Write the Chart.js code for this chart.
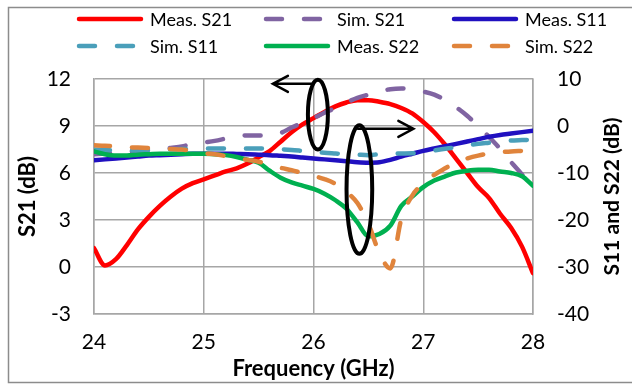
<!DOCTYPE html>
<html><head><meta charset="utf-8">
<script src="https://cdn.jsdelivr.net/npm/chart.js@4.4.0/dist/chart.umd.min.js"></script>
<style>html,body{margin:0;padding:0;background:#fff}#wrap{width:632px;height:386px;position:relative}</style>
</head><body><div id="wrap"><canvas id="c" width="632" height="386"></canvas></div>
<script>
// Frequency (GHz)
const frequency = [24.0,24.1,24.2,24.3,24.4,24.5,24.6,24.7,24.8,24.9,
  25.0,25.1,25.2,25.3,25.4,25.5,25.6,25.7,25.8,25.9,
  26.0,26.1,26.2,26.3,26.4,26.5,26.6,26.7,26.8,26.9,
  27.0,27.1,27.2,27.3,27.4,27.5,27.6,27.7,27.8,27.9,28.0];
// S21 (dB), left axis
const measS21 = [1.2,0.1,0.5,1.4,2.4,3.2,3.9,4.5,5.0,5.35,
  5.6,5.85,6.1,6.3,6.6,7.0,7.4,8.0,8.6,9.1,
  9.5,9.9,10.25,10.5,10.65,10.65,10.55,10.4,10.15,9.8,
  9.25,8.6,7.8,6.9,6.0,5.1,4.4,3.4,2.5,1.3,-0.4];
const simS21 = [7.2,7.25,7.3,7.35,7.4,7.45,7.5,7.6,7.7,7.85,
  7.95,8.05,8.2,8.35,8.4,8.4,8.4,8.55,8.9,9.2,
  9.5,9.85,10.15,10.5,10.8,11.0,11.2,11.35,11.4,11.35,
  11.2,11.0,10.65,10.2,9.65,9.0,8.3,7.55,6.7,5.9,4.9];
// S11 and S22 (dB), right axis
const measS11 = [-7.3,-7.1,-6.9,-6.7,-6.5,-6.3,-6.2,-6.1,-6.0,-5.9,
  -5.9,-5.9,-5.9,-5.95,-6.0,-6.1,-6.2,-6.35,-6.5,-6.7,
  -6.9,-7.1,-7.3,-7.5,-7.7,-7.8,-7.7,-7.2,-6.5,-5.9,
  -5.3,-4.8,-4.3,-3.8,-3.3,-2.8,-2.3,-1.9,-1.6,-1.3,-1.0];
const simS11 = [-5.0,-5.1,-5.2,-5.2,-5.2,-5.1,-5.0,-4.95,-4.9,-4.85,
  -4.8,-4.8,-4.8,-4.8,-4.8,-4.8,-4.85,-4.95,-5.1,-5.3,
  -5.5,-5.7,-5.85,-6.0,-6.1,-6.2,-6.0,-5.9,-5.85,-5.8,
  -5.6,-5.2,-4.85,-4.5,-4.1,-3.8,-3.55,-3.3,-3.1,-3.0,-2.9];
const measS22 = [-5.4,-6.0,-6.3,-6.3,-6.1,-6.0,-5.9,-5.9,-5.9,-5.9,
  -5.9,-6.0,-6.2,-6.6,-7.2,-7.8,-9.5,-11.0,-12.0,-12.7,
  -13.4,-14.4,-15.8,-17.6,-20.5,-23.5,-23.0,-21.2,-17.0,-15.0,
  -13.0,-11.6,-10.7,-9.9,-9.5,-9.3,-9.3,-9.7,-10.0,-10.7,-12.7];
const simS22 = [-4.1,-4.2,-4.35,-4.5,-4.6,-4.7,-4.8,-4.9,-5.0,-5.3,
  -5.8,-6.0,-6.4,-6.9,-7.2,-7.6,-8.3,-8.9,-9.4,-10.0,
  -10.6,-11.3,-12.3,-14.0,-16.4,-20.8,-27.0,-30.3,-19.8,-14.8,
  -12.2,-10.4,-9.0,-7.7,-6.9,-6.3,-5.85,-5.6,-5.4,-5.3,-5.2];

const xTicks = [24,25,26,27,28];
const leftTicks = [-3,0,3,6,9,12];
const rightTicks = [-40,-30,-20,-10,0,10];

// annotation shapes in data units (x: GHz, y: left axis dB)
const annotationEllipses = [
  {x:26.04, y:9.73, rx:0.091, ry:2.23},
  {x:26.418, y:4.94, rx:0.117, ry:4.10}
];
const annotationArrows = [
  {y:11.69, from:26.0, to:25.63},
  {y:8.82, from:26.405, to:26.91}
];

const FONT = 'Lato';
const pts = arr => frequency.map((f,i)=>({x:f, y:arr[i]}));
const DASH = [16,22];

function ds(label, arr, color, axis, dashed, order){
  return {label, data: pts(arr), yAxisID: axis, borderColor: color, backgroundColor: color,
    borderWidth: 4.5, borderDash: dashed ? DASH : [], borderCapStyle: 'round',
    borderJoinStyle:'round', pointRadius: 0, cubicInterpolationMode: 'monotone', fill:false, order,
    _dashed: dashed};
}

const datasets = [
  ds('Meas. S21', measS21, '#FF0000', 'y', false, 6),
  ds('Sim. S21', simS21, '#8064A2', 'y', true, 5),
  ds('Meas. S11', measS11, '#2010C0', 'y1', false, 4),
  ds('Sim. S11', simS11, '#4A9FBA', 'y1', true, 3),
  ds('Meas. S22', measS22, '#00B050', 'y1', false, 2),
  ds('Sim. S22', simS22, '#E0843C', 'y1', true, 1)
];

const legendCols = [77, 264, 452];
const legendRows = [19, 46];

const extras = {
  id: 'extras',
  beforeDraw(chart){
    const ctx = chart.ctx;
    ctx.save();
    ctx.fillStyle = '#fff';
    ctx.fillRect(0,0,chart.width,chart.height);
    ctx.strokeStyle = '#8C8C8C';
    ctx.lineWidth = 1.5;
    ctx.strokeRect(8.5, 7.5, 700, 375);
    ctx.restore();
  },
  afterDatasetsDraw(chart){
    const ctx = chart.ctx, xs = chart.scales.x, ys = chart.scales.y;
    ctx.save();
    ctx.strokeStyle = '#000';
    ctx.lineWidth = 4;
    annotationEllipses.forEach(e=>{
      const cx = xs.getPixelForValue(e.x), cy = ys.getPixelForValue(e.y);
      const rx = Math.abs(xs.getPixelForValue(e.x+e.rx)-cx), ry = Math.abs(ys.getPixelForValue(e.y+e.ry)-cy);
      ctx.beginPath(); ctx.ellipse(cx,cy,rx,ry,0,0,Math.PI*2); ctx.stroke();
    });
    ctx.lineWidth = 2.5;
    ctx.lineCap = 'round';
    annotationArrows.forEach(a=>{
      const y = ys.getPixelForValue(a.y), x0 = xs.getPixelForValue(a.from), x1 = xs.getPixelForValue(a.to);
      const d = Math.sign(x1-x0);
      ctx.beginPath(); ctx.moveTo(x0,y); ctx.lineTo(x1,y);
      ctx.moveTo(x1-d*15, y-8); ctx.lineTo(x1,y); ctx.lineTo(x1-d*15, y+8);
      ctx.stroke();
    });
    ctx.restore();
  },
  afterDraw(chart){
    const ctx = chart.ctx;
    ctx.save();
    // legend
    ctx.font = '18px ' + FONT;
    ctx.textBaseline = 'middle';
    ctx.textAlign = 'left';
    chart.data.datasets.forEach((d,i)=>{
      const x = legendCols[i%3], y = legendRows[Math.floor(i/3)];
      ctx.strokeStyle = d.borderColor;
      ctx.lineWidth = 4.5;
      ctx.lineCap = 'round';
      ctx.setLineDash(d._dashed ? DASH : []);
      ctx.beginPath(); ctx.moveTo(x+2, y); ctx.lineTo(x+64, y); ctx.stroke();
      ctx.setLineDash([]);
      ctx.fillStyle = '#000';
      ctx.fillText(d.label, x+73, y+1);
    });
    // right axis title (reads bottom to top)
    const ya = chart.scales.y;
    ctx.translate(612, (ya.top+ya.bottom)/2);
    ctx.rotate(-Math.PI/2);
    ctx.font = 'bold 21px ' + FONT;
    ctx.textAlign = 'center';
    ctx.fillText('S11 and S22 (dB)', 0, 0);
    ctx.restore();
  }
};

const gridCol = '#A6A6A6';
const tickFont = { family: FONT, size: 21 };
const titleFont = { family: FONT, size: 22, weight: 'bold' };
new Chart(document.getElementById('c'), {
  type: 'line',
  data: { datasets },
  options: {
    responsive: false, animation: false, devicePixelRatio: 1,
    layout: { padding: { left: 0, right: 0, top: 79, bottom: 0 } },
    plugins: { legend: { display: false }, tooltip: { enabled: false } },
    scales: {
      x: { type: 'linear', min: 24, max: 28, position: 'bottom',
        afterBuildTicks: s => { s.ticks = xTicks.map(v=>({value:v})); },
        ticks: { font: tickFont, color: '#000', padding: 16, maxRotation: 0 },
        grid: { color: gridCol, lineWidth: 1.5, drawTicks: false },
        border: { color: gridCol, width: 1.5 },
        title: { display: true, text: 'Frequency (GHz)', color: '#000', font: titleFont, padding: { top: 0, bottom: 4 } },
        afterFit: s => { s.height = 72; } },
      y: { position: 'left', min: -3, max: 12,
        afterBuildTicks: s => { s.ticks = leftTicks.map(v=>({value:v})); },
        ticks: { font: tickFont, color: '#000', padding: 23 },
        grid: { color: gridCol, lineWidth: 1.5, drawTicks: false },
        border: { color: gridCol, width: 1.5 },
        title: { display: true, text: 'S21 (dB)', color: '#000', font: titleFont, padding: { top: 15, bottom: 0 } },
        afterFit: s => { s.width = 94; } },
      y1: { position: 'right', min: -40, max: 10,
        afterBuildTicks: s => { s.ticks = rightTicks.map(v=>({value:v})); },
        ticks: { font: tickFont, color: '#000', padding: 24 },
        grid: { display: false, drawTicks: false },
        border: { color: gridCol, width: 1.5 },
        afterFit: s => { s.width = 99; } }
    }
  },
  plugins: [extras]
});
</script>
</body></html>
